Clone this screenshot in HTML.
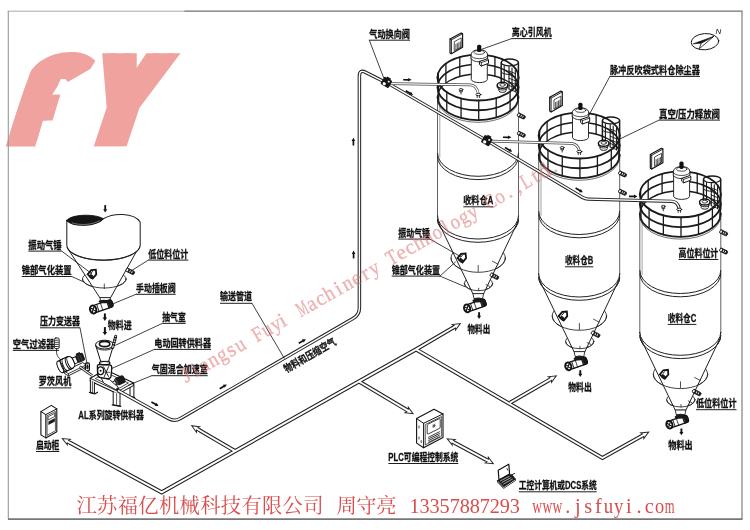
<!DOCTYPE html>
<html lang="zh-CN">
<head>
<meta charset="utf-8">
<title>气力输送系统流程图</title>
<style>
html,body{margin:0;padding:0;background:#fff;}
body{width:750px;height:530px;overflow:hidden;position:relative;}
svg{display:block;position:absolute;left:0;top:0;will-change:transform;}
.lb{font-family:"Liberation Sans","Noto Sans CJK SC",sans-serif;font-weight:bold;fill:#111;stroke:#111;stroke-width:0.28px;}
.song{font-family:"Liberation Serif","Noto Serif CJK SC",serif;}
</style>
</head>
<body>
<svg width="750" height="530" viewBox="0 0 750 530" stroke-linecap="round" stroke-linejoin="round">
<rect x="0" y="0" width="750" height="530" fill="#fff" stroke="none"/>
<defs><clipPath id="cf"><polygon points="4.2,146.4 43,36 67.7,36 67.7,51.2 74,51.5 80,52.5 86,54.5 91,57.3 95,60.5 97.9,64.6 83,73.2 67.7,82 65.5,79 60.9,79 57.2,86.5 51.9,94.8 60.2,94.8 52.6,120.5 42.8,120.5 35.2,146.4"/></clipPath><clipPath id="cy"><rect x="80" y="53.3" width="120" height="93.1"/></clipPath></defs>
<g id="logo" fill="#f0a29e" stroke="#f0a29e" stroke-linejoin="miter" stroke-miterlimit="10" font-family="'Noto Sans CJK SC','Liberation Sans',sans-serif" font-weight="900">
<g clip-path="url(#cf)"><text x="0" y="0" font-size="98.5" stroke-width="15.75" transform="translate(5,140) skewX(-17) scale(1.3,1)">f</text></g>
<g clip-path="url(#cy)"><text x="0" y="0" font-size="129" stroke-width="13.5" transform="translate(77,140) skewX(-18.5) scale(0.9,1)">Y</text></g>
</g>
<g id="frame">
<line x1="8" y1="11.2" x2="185" y2="11.2" stroke="#a8a8a8" stroke-width="1.0" />
<line x1="185" y1="11.2" x2="742" y2="11.2" stroke="#707070" stroke-width="1.3" />
<line x1="8.3" y1="11" x2="8.3" y2="519" stroke="#999" stroke-width="1.1" stroke-linecap="butt"/>
<line x1="742" y1="11" x2="742" y2="519" stroke="#888" stroke-width="1.3" stroke-linecap="butt"/>
<line x1="8" y1="519.2" x2="742.5" y2="519.2" stroke="#777" stroke-width="1.7" stroke-linecap="butt"/>
</g>
<g id="signals">
<path d="M69.78 442.64 L161.7 492.3 L416.1 349.4 L452.97 327.8" stroke="#222" stroke-width="4.1" fill="none" stroke-linejoin="miter" stroke-linecap="butt"/>
<path d="M235 451.1 L199.03 430" stroke="#222" stroke-width="4.1" fill="none" stroke-linejoin="miter" stroke-linecap="butt"/>
<path d="M359 381.5 L405.7 409.35" stroke="#222" stroke-width="4.1" fill="none" stroke-linejoin="miter" stroke-linecap="butt"/>
<path d="M416.1 349.4 L602.4 458 L641.28 436.25" stroke="#222" stroke-width="4.1" fill="none" stroke-linejoin="miter" stroke-linecap="butt"/>
<path d="M510 402.8 L548.95 380.17" stroke="#222" stroke-width="4.1" fill="none" stroke-linejoin="miter" stroke-linecap="butt"/>
<path d="M69.78 442.64 L161.7 492.3 L416.1 349.4 L452.97 327.8" stroke="#fff" stroke-width="1.9" fill="none" stroke-linejoin="miter" stroke-linecap="butt"/>
<path d="M235 451.1 L199.03 430" stroke="#fff" stroke-width="1.9" fill="none" stroke-linejoin="miter" stroke-linecap="butt"/>
<path d="M359 381.5 L405.7 409.35" stroke="#fff" stroke-width="1.9" fill="none" stroke-linejoin="miter" stroke-linecap="butt"/>
<path d="M416.1 349.4 L602.4 458 L641.28 436.25" stroke="#fff" stroke-width="1.9" fill="none" stroke-linejoin="miter" stroke-linecap="butt"/>
<path d="M510 402.8 L548.95 380.17" stroke="#fff" stroke-width="1.9" fill="none" stroke-linejoin="miter" stroke-linecap="butt"/>
<g transform="translate(62.3,438.6) rotate(-151.62)"><path d="M0 0 L-7.4 -3.2 L-6.4 -1.45 L-8.9 -1.45 L-8.9 1.45 L-6.4 1.45 L-7.4 3.2 Z" fill="#fff" stroke="none"/><path d="M-8.9 -1.45 L-6.4 -1.45 L-7.4 -3.2 L0 0 L-7.4 3.2 L-6.4 1.45 L-8.9 1.45" fill="none" stroke="#222" stroke-width="0.95" stroke-linejoin="miter"/></g>
<g transform="translate(460.3,323.5) rotate(-30.37)"><path d="M0 0 L-7.4 -3.2 L-6.4 -1.45 L-8.9 -1.45 L-8.9 1.45 L-6.4 1.45 L-7.4 3.2 Z" fill="#fff" stroke="none"/><path d="M-8.9 -1.45 L-6.4 -1.45 L-7.4 -3.2 L0 0 L-7.4 3.2 L-6.4 1.45 L-8.9 1.45" fill="none" stroke="#222" stroke-width="0.95" stroke-linejoin="miter"/></g>
<g transform="translate(191.7,425.7) rotate(-149.6)"><path d="M0 0 L-7.4 -3.2 L-6.4 -1.45 L-8.9 -1.45 L-8.9 1.45 L-6.4 1.45 L-7.4 3.2 Z" fill="#fff" stroke="none"/><path d="M-8.9 -1.45 L-6.4 -1.45 L-7.4 -3.2 L0 0 L-7.4 3.2 L-6.4 1.45 L-8.9 1.45" fill="none" stroke="#222" stroke-width="0.95" stroke-linejoin="miter"/></g>
<g transform="translate(413,413.7) rotate(30.81)"><path d="M0 0 L-7.4 -3.2 L-6.4 -1.45 L-8.9 -1.45 L-8.9 1.45 L-6.4 1.45 L-7.4 3.2 Z" fill="#fff" stroke="none"/><path d="M-8.9 -1.45 L-6.4 -1.45 L-7.4 -3.2 L0 0 L-7.4 3.2 L-6.4 1.45 L-8.9 1.45" fill="none" stroke="#222" stroke-width="0.95" stroke-linejoin="miter"/></g>
<g transform="translate(648.7,432.1) rotate(-29.22)"><path d="M0 0 L-7.4 -3.2 L-6.4 -1.45 L-8.9 -1.45 L-8.9 1.45 L-6.4 1.45 L-7.4 3.2 Z" fill="#fff" stroke="none"/><path d="M-8.9 -1.45 L-6.4 -1.45 L-7.4 -3.2 L0 0 L-7.4 3.2 L-6.4 1.45 L-8.9 1.45" fill="none" stroke="#222" stroke-width="0.95" stroke-linejoin="miter"/></g>
<g transform="translate(556.3,375.9) rotate(-30.16)"><path d="M0 0 L-7.4 -3.2 L-6.4 -1.45 L-8.9 -1.45 L-8.9 1.45 L-6.4 1.45 L-7.4 3.2 Z" fill="#fff" stroke="none"/><path d="M-8.9 -1.45 L-6.4 -1.45 L-7.4 -3.2 L0 0 L-7.4 3.2 L-6.4 1.45 L-8.9 1.45" fill="none" stroke="#222" stroke-width="0.95" stroke-linejoin="miter"/></g>
<path d="M454.69 442.83 L485.81 459.57" stroke="#222" stroke-width="4.1" fill="none" stroke-linecap="butt"/>
<path d="M454.69 442.83 L485.81 459.57" stroke="#fff" stroke-width="1.9" fill="none" stroke-linecap="butt"/>
<g transform="translate(447.2,438.8) rotate(-151.72)"><path d="M0 0 L-7.4 -3.2 L-6.4 -1.45 L-8.9 -1.45 L-8.9 1.45 L-6.4 1.45 L-7.4 3.2 Z" fill="#fff" stroke="none"/><path d="M-8.9 -1.45 L-6.4 -1.45 L-7.4 -3.2 L0 0 L-7.4 3.2 L-6.4 1.45 L-8.9 1.45" fill="none" stroke="#222" stroke-width="0.95" stroke-linejoin="miter"/></g>
<g transform="translate(493.3,463.6) rotate(28.28)"><path d="M0 0 L-7.4 -3.2 L-6.4 -1.45 L-8.9 -1.45 L-8.9 1.45 L-6.4 1.45 L-7.4 3.2 Z" fill="#fff" stroke="none"/><path d="M-8.9 -1.45 L-6.4 -1.45 L-7.4 -3.2 L0 0 L-7.4 3.2 L-6.4 1.45 L-8.9 1.45" fill="none" stroke="#222" stroke-width="0.95" stroke-linejoin="miter"/></g>
</g>
<g id="siloA">
<line x1="437.5" y1="97" x2="437.5" y2="217" stroke="#444" stroke-width="0.85" />
<line x1="518.5" y1="97" x2="518.5" y2="217" stroke="#444" stroke-width="0.85" />
<line x1="439.8" y1="103" x2="439.8" y2="157.3" stroke="#666" stroke-width="0.6" />
<path d="M437.5 153.3 A40.5 23 0 0 0 518.5 153.3" stroke="#222" stroke-width="1.0" fill="none" />
<path d="M437.5 156.6 A40.5 23 0 0 0 518.5 156.6" stroke="#222" stroke-width="1.0" fill="none" />
<path d="M437.5 216 A40.5 23 0 0 0 518.5 216" stroke="#222" stroke-width="1.0" fill="none" />
<path d="M437.5 219.3 A40.5 23 0 0 0 518.5 219.3" stroke="#222" stroke-width="1.0" fill="none" />
<ellipse cx="478.2" cy="258" rx="27.2" ry="14.3" stroke="#222" stroke-width="0.85" fill="none" />
<ellipse cx="478.5" cy="283.5" rx="14.2" ry="7.2" stroke="#222" stroke-width="0.85" fill="none" />
<path d="M437.8 221 L473 294 L483.5 294 L518.2 221" fill="#fff" stroke="#222" stroke-width="1.0"/>
<path d="M437.5 216 A40.5 23.0 0 0 0 518.5 216" fill="#fff" stroke="none"/>
<path d="M437.5 216 A40.5 23 0 0 0 518.5 216" stroke="#222" stroke-width="1.0" fill="none" />
<path d="M437.5 219.3 A40.5 23 0 0 0 518.5 219.3" stroke="#222" stroke-width="1.0" fill="none" />
<path d="M451 258 A27.2 14.3 0 0 0 505.4 258" stroke="#222" stroke-width="0.85" fill="none" />
<path d="M464.3 283.5 A14.2 7.2 0 0 0 492.7 283.5" stroke="#222" stroke-width="0.85" fill="none" />
<line x1="478.2" y1="265.5" x2="478.2" y2="271.5" stroke="#222" stroke-width="0.8" />
<line x1="478.7" y1="288.2" x2="478.7" y2="290.7" stroke="#222" stroke-width="0.8" />
<line x1="492.4" y1="261.2" x2="498" y2="264.2" stroke="#222" stroke-width="0.8" />
<line x1="486" y1="284.6" x2="489.6" y2="286.4" stroke="#222" stroke-width="0.8" />
<path d="M473 294 L474 298.6 L482.6 298.6 L483.5 294 Z" fill="#fff" stroke="#222" stroke-width="0.9"/>
<ellipse cx="478.3" cy="299.2" rx="4.6" ry="1.7" fill="#222" stroke="none"/>
<g transform="translate(475.8,305.4) rotate(-19) scale(1.0)">
<rect x="-10" y="-3.6" width="20.4" height="7.2" rx="2.2" fill="#fff" stroke="#111" stroke-width="1.25"/>
<path d="M6.2 -3.6 L8.2 -3.6 Q10.4 -3.6 10.4 -1.4 L10.4 1.4 Q10.4 3.6 8.2 3.6 L6.2 3.6 Z" fill="#1a1a1a" stroke="#111" stroke-width="0.8"/>
<ellipse cx="3.0" cy="-3.9" rx="5.0" ry="1.7" fill="#1a1a1a" transform="rotate(19 3.0 -3.9)"/>
<path d="M-0.6 -3.6 L-0.6 3.6 M5.6 -3.6 L5.6 3.6" stroke="#111" stroke-width="0.7"/>
<ellipse cx="-9.2" cy="0" rx="3.0" ry="3.9" fill="#fff" stroke="#111" stroke-width="1.9"/>
<path d="M-10.9 -2.2 L-7.5 2.2 M-10.9 2.2 L-7.5 -2.2" stroke="#111" stroke-width="1.15"/>
<line x1="-4.4" y1="-3.6" x2="-4.4" y2="3.6" stroke="#111" stroke-width="0.8"/>
</g>
<g transform="translate(479.1,315.6) rotate(90)"><path d="M-3.4 0 L0.6 0" stroke="#111" stroke-width="1.9" stroke-linecap="butt" fill="none"/><path d="M3.4 0 L0.2 -2 L0.2 2 Z" fill="#111" stroke="none"/></g>
<g transform="translate(462.4,257.4) rotate(-50) scale(1.1)"><path d="M-3.4 -3 L1.6 -3 L4.6 0 L1.6 3 L-3.4 3 Z" fill="#fff" stroke="#111" stroke-width="1.6" stroke-linejoin="miter"/><rect x="-4.6" y="-1.2" width="3.4" height="3.8" rx="0.5" fill="#1a1a1a"/><path d="M-0.8 -1.3 L1.4 -1.3" stroke="#111" stroke-width="0.8"/></g>
<g transform="translate(490.4,274.2) rotate(27)"><rect x="0" y="-1.8" width="9" height="3.6" rx="1.2" fill="#1c1c1c" stroke="#111" stroke-width="0.7"/><rect x="0.5" y="-1.2" width="1.6" height="2.4" rx="0.5" fill="#fff"/><rect x="3.78" y="-1.0" width="0.9" height="2.0" fill="#eee"/><rect x="5.94" y="-1.0" width="0.9" height="2.0" fill="#eee"/></g>
<path d="M437.5 97 A40.5 23 0 0 1 518.5 97" stroke="#1a1a1a" stroke-width="1.4" fill="none" />
<path d="M437.5 87.25 A40.5 23 0 0 1 518.5 87.25" stroke="#1a1a1a" stroke-width="1.6" fill="none" />
<path d="M437.5 77.5 A40.5 23 0 0 1 518.5 77.5" stroke="#1a1a1a" stroke-width="1.75" fill="none" />
<line x1="438.36" y1="72.77" x2="438.36" y2="92.27" stroke="#1a1a1a" stroke-width="1.3" />
<line x1="445.9" y1="63.48" x2="445.9" y2="82.98" stroke="#1a1a1a" stroke-width="1.3" />
<line x1="459.79" y1="56.96" x2="459.79" y2="76.46" stroke="#1a1a1a" stroke-width="1.3" />
<line x1="477.29" y1="54.5" x2="477.29" y2="74" stroke="#1a1a1a" stroke-width="1.3" />
<line x1="494.93" y1="56.61" x2="494.93" y2="76.11" stroke="#1a1a1a" stroke-width="1.3" />
<g stroke="#1a1a1a" fill="none">
<path d="M501.2 84 L501.2 62.5 A8.6 3.4 0 0 1 518.4 62.5 L518.4 93" stroke-width="1.5" fill="none"/>
<path d="M501.2 62.5 A8.6 3.4 0 0 0 518.4 62.5" stroke-width="1.2"/>
<path d="M501.2 72 A8.6 3.4 0 0 0 510 74.4" stroke-width="1.0"/>
<path d="M504.2 83 L504.2 65.7 M509 89 L509 66.5 M512 91 L512 68 M515.3 92 L515.3 69.5" stroke-width="1.1"/>
<path d="M509 71 L515.3 73.6" stroke-width="0.9"/>
<path d="M509 74.6 L515.3 77.2" stroke-width="0.9"/>
<path d="M509 78.2 L515.3 80.8" stroke-width="0.9"/>
<path d="M509 81.8 L515.3 84.4" stroke-width="0.9"/>
<path d="M509 85.4 L515.3 88" stroke-width="0.9"/>
<path d="M509 89 L515.3 91.6" stroke-width="0.9"/>
</g>
<path d="M471.3 57 L471.3 79.4 A8 3.2 0 0 0 487.3 79.4 L487.3 57 Z" fill="#fff" stroke="#222" stroke-width="0.95"/>
<path d="M471.3 58.6 A8 3.2 0 0 0 487.3 58.6" fill="none" stroke="#222" stroke-width="0.9"/>
<path d="M471 58.6 L471 55 Q471.3 51 476.3 50 L482.3 50 Q487.3 51 487.6 55 L487.6 58.6" fill="#fff" stroke="#222" stroke-width="1.0"/>
<path d="M471 55.5 A8.3 3.2 0 0 0 487.6 55.5" fill="none" stroke="#222" stroke-width="0.8"/>
<ellipse cx="479.3" cy="52.4" rx="5.2" ry="2" fill="none" stroke="#222" stroke-width="0.8"/>
<rect x="477.1" y="44.7" width="4.2" height="7.4" rx="1.6" fill="#111"/>
<path d="M479.8 61.4 L487.3 58.8 L488.5 60 L488.5 63.4 L481.3 66 L479.8 64.8 Z" fill="#fff" stroke="#111" stroke-width="1.0"/>
<path d="M479.8 61.4 L481.3 62.6 L488.5 60 M481.3 62.6 L481.3 66" fill="none" stroke="#111" stroke-width="0.8"/>
<path d="M498.9 86.7 L498.9 90.6 A3.6 1.8 0 0 0 506.1 90.6 L506.1 86.7" fill="#fff" stroke="#111" stroke-width="0.9"/>
<ellipse cx="502.5" cy="85.2" rx="5.3" ry="3.0" fill="#fff" stroke="#111" stroke-width="1.4"/>
<ellipse cx="502.5" cy="84.9" rx="2.7" ry="1.4" fill="none" stroke="#111" stroke-width="0.8"/>
<path d="M497.2 85.2 L497.2 87 A5.3 3 0 0 0 507.8 87 L507.8 85.2" fill="none" stroke="#111" stroke-width="0.9"/>
<ellipse cx="461" cy="89.5" rx="1.9" ry="1.0" fill="#fff" stroke="#111" stroke-width="0.8"/>
<path d="M459.7 90.3 L459.7 91.9 L462.3 91.9 L462.3 90.3 M461 91.9 L461 94.1" fill="none" stroke="#111" stroke-width="0.8"/>
<line x1="478.71" y1="100.5" x2="478.71" y2="120" stroke="#1a1a1a" stroke-width="1.3" />
<line x1="461.07" y1="98.39" x2="461.07" y2="117.89" stroke="#1a1a1a" stroke-width="1.3" />
<line x1="446.78" y1="92.15" x2="446.78" y2="111.65" stroke="#1a1a1a" stroke-width="1.3" />
<line x1="438.68" y1="83.01" x2="438.68" y2="102.51" stroke="#1a1a1a" stroke-width="1.3" />
<line x1="517.64" y1="82.22" x2="517.64" y2="101.72" stroke="#1a1a1a" stroke-width="1.3" />
<line x1="510.1" y1="91.52" x2="510.1" y2="111.02" stroke="#1a1a1a" stroke-width="1.3" />
<line x1="496.21" y1="98.04" x2="496.21" y2="117.54" stroke="#1a1a1a" stroke-width="1.3" />
<path d="M437.5 97 A40.5 23 0 0 0 518.5 97" stroke="#1a1a1a" stroke-width="1.75" fill="none" />
<path d="M437.5 87.25 A40.5 23 0 0 0 518.5 87.25" stroke="#1a1a1a" stroke-width="1.85" fill="none" />
<path d="M437.5 77.5 A40.5 23 0 0 0 518.5 77.5" stroke="#1a1a1a" stroke-width="1.95" fill="none" />
<path d="M437.5 99.3 A40.5 23 0 0 0 518.5 99.3" stroke="#333" stroke-width="0.7" fill="none" />
<path d="M450 39.1 L461.2 32.9 L462.6 33.7 L462.6 47.3 L451.4 53.7 L450 52.9 Z" fill="#fff" stroke="#111" stroke-width="1.15"/>
<path d="M450 39.1 L451.4 39.9 L462.6 33.7 M451.4 39.9 L451.4 53.7" fill="none" stroke="#111" stroke-width="0.9"/>
<path d="M454.6 41.5 L461.2 37.9 L461.2 47.1 L454.6 50.7 Z" fill="#fff" stroke="#222" stroke-width="0.8"/>
<path d="M455.9 44.3 L455.9 49.7" stroke="#222" stroke-width="0.75"/>
<path d="M457.35 43.5 L457.35 48.9" stroke="#222" stroke-width="0.75"/>
<path d="M458.8 42.7 L458.8 48.1" stroke="#222" stroke-width="0.75"/>
<path d="M460.25 41.9 L460.25 47.3" stroke="#222" stroke-width="0.75"/>
<g transform="translate(517.6,114.3) rotate(25)"><rect x="0" y="-1.8" width="8.2" height="3.6" rx="1.2" fill="#1c1c1c" stroke="#111" stroke-width="0.7"/><rect x="0.5" y="-1.2" width="1.6" height="2.4" rx="0.5" fill="#fff"/><rect x="3.44" y="-1.0" width="0.9" height="2.0" fill="#eee"/><rect x="5.41" y="-1.0" width="0.9" height="2.0" fill="#eee"/></g>
<g transform="translate(517.6,132.6) rotate(25)"><rect x="0" y="-1.8" width="8.2" height="3.6" rx="1.2" fill="#1c1c1c" stroke="#111" stroke-width="0.7"/><rect x="0.5" y="-1.2" width="1.6" height="2.4" rx="0.5" fill="#fff"/><rect x="3.44" y="-1.0" width="0.9" height="2.0" fill="#eee"/><rect x="5.41" y="-1.0" width="0.9" height="2.0" fill="#eee"/></g>
</g>
<g id="siloB">
<line x1="538.7" y1="155" x2="538.7" y2="275" stroke="#444" stroke-width="0.85" />
<line x1="619.7" y1="155" x2="619.7" y2="275" stroke="#444" stroke-width="0.85" />
<line x1="541" y1="161" x2="541" y2="215.5" stroke="#666" stroke-width="0.6" />
<path d="M538.7 211.5 A40.5 23 0 0 0 619.7 211.5" stroke="#222" stroke-width="1.0" fill="none" />
<path d="M538.7 214.8 A40.5 23 0 0 0 619.7 214.8" stroke="#222" stroke-width="1.0" fill="none" />
<path d="M538.7 274 A40.5 23 0 0 0 619.7 274" stroke="#222" stroke-width="1.0" fill="none" />
<path d="M538.7 277.3 A40.5 23 0 0 0 619.7 277.3" stroke="#222" stroke-width="1.0" fill="none" />
<ellipse cx="579.4" cy="316" rx="27.2" ry="14.3" stroke="#222" stroke-width="0.85" fill="none" />
<ellipse cx="579.7" cy="341.5" rx="14.2" ry="7.2" stroke="#222" stroke-width="0.85" fill="none" />
<path d="M539 279 L574.2 352 L584.7 352 L619.4 279" fill="#fff" stroke="#222" stroke-width="1.0"/>
<path d="M538.7 274 A40.5 23.0 0 0 0 619.7 274" fill="#fff" stroke="none"/>
<path d="M538.7 274 A40.5 23 0 0 0 619.7 274" stroke="#222" stroke-width="1.0" fill="none" />
<path d="M538.7 277.3 A40.5 23 0 0 0 619.7 277.3" stroke="#222" stroke-width="1.0" fill="none" />
<path d="M552.2 316 A27.2 14.3 0 0 0 606.6 316" stroke="#222" stroke-width="0.85" fill="none" />
<path d="M565.5 341.5 A14.2 7.2 0 0 0 593.9 341.5" stroke="#222" stroke-width="0.85" fill="none" />
<line x1="579.4" y1="323.5" x2="579.4" y2="329.5" stroke="#222" stroke-width="0.8" />
<line x1="579.9" y1="346.2" x2="579.9" y2="348.7" stroke="#222" stroke-width="0.8" />
<line x1="593.6" y1="319.2" x2="599.2" y2="322.2" stroke="#222" stroke-width="0.8" />
<line x1="587.2" y1="342.6" x2="590.8" y2="344.4" stroke="#222" stroke-width="0.8" />
<path d="M574.2 352 L575.2 356.6 L583.8 356.6 L584.7 352 Z" fill="#fff" stroke="#222" stroke-width="0.9"/>
<ellipse cx="579.5" cy="357.2" rx="4.6" ry="1.7" fill="#222" stroke="none"/>
<g transform="translate(577,363.4) rotate(-19) scale(1.0)">
<rect x="-10" y="-3.6" width="20.4" height="7.2" rx="2.2" fill="#fff" stroke="#111" stroke-width="1.25"/>
<path d="M6.2 -3.6 L8.2 -3.6 Q10.4 -3.6 10.4 -1.4 L10.4 1.4 Q10.4 3.6 8.2 3.6 L6.2 3.6 Z" fill="#1a1a1a" stroke="#111" stroke-width="0.8"/>
<ellipse cx="3.0" cy="-3.9" rx="5.0" ry="1.7" fill="#1a1a1a" transform="rotate(19 3.0 -3.9)"/>
<path d="M-0.6 -3.6 L-0.6 3.6 M5.6 -3.6 L5.6 3.6" stroke="#111" stroke-width="0.7"/>
<ellipse cx="-9.2" cy="0" rx="3.0" ry="3.9" fill="#fff" stroke="#111" stroke-width="1.9"/>
<path d="M-10.9 -2.2 L-7.5 2.2 M-10.9 2.2 L-7.5 -2.2" stroke="#111" stroke-width="1.15"/>
<line x1="-4.4" y1="-3.6" x2="-4.4" y2="3.6" stroke="#111" stroke-width="0.8"/>
</g>
<g transform="translate(580.3,373.6) rotate(90)"><path d="M-3.4 0 L0.6 0" stroke="#111" stroke-width="1.9" stroke-linecap="butt" fill="none"/><path d="M3.4 0 L0.2 -2 L0.2 2 Z" fill="#111" stroke="none"/></g>
<g transform="translate(563.6,315.4) rotate(-50) scale(1.1)"><path d="M-3.4 -3 L1.6 -3 L4.6 0 L1.6 3 L-3.4 3 Z" fill="#fff" stroke="#111" stroke-width="1.6" stroke-linejoin="miter"/><rect x="-4.6" y="-1.2" width="3.4" height="3.8" rx="0.5" fill="#1a1a1a"/><path d="M-0.8 -1.3 L1.4 -1.3" stroke="#111" stroke-width="0.8"/></g>
<g transform="translate(591.6,332.2) rotate(27)"><rect x="0" y="-1.8" width="9" height="3.6" rx="1.2" fill="#1c1c1c" stroke="#111" stroke-width="0.7"/><rect x="0.5" y="-1.2" width="1.6" height="2.4" rx="0.5" fill="#fff"/><rect x="3.78" y="-1.0" width="0.9" height="2.0" fill="#eee"/><rect x="5.94" y="-1.0" width="0.9" height="2.0" fill="#eee"/></g>
<path d="M538.7 155 A40.5 23 0 0 1 619.7 155" stroke="#1a1a1a" stroke-width="1.4" fill="none" />
<path d="M538.7 145.25 A40.5 23 0 0 1 619.7 145.25" stroke="#1a1a1a" stroke-width="1.6" fill="none" />
<path d="M538.7 135.5 A40.5 23 0 0 1 619.7 135.5" stroke="#1a1a1a" stroke-width="1.75" fill="none" />
<line x1="539.56" y1="130.77" x2="539.56" y2="150.27" stroke="#1a1a1a" stroke-width="1.3" />
<line x1="547.1" y1="121.48" x2="547.1" y2="140.98" stroke="#1a1a1a" stroke-width="1.3" />
<line x1="560.99" y1="114.96" x2="560.99" y2="134.46" stroke="#1a1a1a" stroke-width="1.3" />
<line x1="578.49" y1="112.5" x2="578.49" y2="132" stroke="#1a1a1a" stroke-width="1.3" />
<line x1="596.13" y1="114.61" x2="596.13" y2="134.11" stroke="#1a1a1a" stroke-width="1.3" />
<g stroke="#1a1a1a" fill="none">
<path d="M602.4 142 L602.4 120.5 A8.6 3.4 0 0 1 619.6 120.5 L619.6 151" stroke-width="1.5" fill="none"/>
<path d="M602.4 120.5 A8.6 3.4 0 0 0 619.6 120.5" stroke-width="1.2"/>
<path d="M602.4 130 A8.6 3.4 0 0 0 611.2 132.4" stroke-width="1.0"/>
<path d="M605.4 141 L605.4 123.7 M610.2 147 L610.2 124.5 M613.2 149 L613.2 126 M616.5 150 L616.5 127.5" stroke-width="1.1"/>
<path d="M610.2 129 L616.5 131.6" stroke-width="0.9"/>
<path d="M610.2 132.6 L616.5 135.2" stroke-width="0.9"/>
<path d="M610.2 136.2 L616.5 138.8" stroke-width="0.9"/>
<path d="M610.2 139.8 L616.5 142.4" stroke-width="0.9"/>
<path d="M610.2 143.4 L616.5 146" stroke-width="0.9"/>
<path d="M610.2 147 L616.5 149.6" stroke-width="0.9"/>
</g>
<path d="M572.5 115 L572.5 137.4 A8 3.2 0 0 0 588.5 137.4 L588.5 115 Z" fill="#fff" stroke="#222" stroke-width="0.95"/>
<path d="M572.5 116.6 A8 3.2 0 0 0 588.5 116.6" fill="none" stroke="#222" stroke-width="0.9"/>
<path d="M572.2 116.6 L572.2 113 Q572.5 109 577.5 108 L583.5 108 Q588.5 109 588.8 113 L588.8 116.6" fill="#fff" stroke="#222" stroke-width="1.0"/>
<path d="M572.2 113.5 A8.3 3.2 0 0 0 588.8 113.5" fill="none" stroke="#222" stroke-width="0.8"/>
<ellipse cx="580.5" cy="110.4" rx="5.2" ry="2" fill="none" stroke="#222" stroke-width="0.8"/>
<rect x="578.3" y="102.7" width="4.2" height="7.4" rx="1.6" fill="#111"/>
<path d="M581 119.4 L588.5 116.8 L589.7 118 L589.7 121.4 L582.5 124 L581 122.8 Z" fill="#fff" stroke="#111" stroke-width="1.0"/>
<path d="M581 119.4 L582.5 120.6 L589.7 118 M582.5 120.6 L582.5 124" fill="none" stroke="#111" stroke-width="0.8"/>
<path d="M600.1 144.7 L600.1 148.6 A3.6 1.8 0 0 0 607.3 148.6 L607.3 144.7" fill="#fff" stroke="#111" stroke-width="0.9"/>
<ellipse cx="603.7" cy="143.2" rx="5.3" ry="3.0" fill="#fff" stroke="#111" stroke-width="1.4"/>
<ellipse cx="603.7" cy="142.9" rx="2.7" ry="1.4" fill="none" stroke="#111" stroke-width="0.8"/>
<path d="M598.4 143.2 L598.4 145 A5.3 3 0 0 0 609 145 L609 143.2" fill="none" stroke="#111" stroke-width="0.9"/>
<ellipse cx="562.2" cy="147.5" rx="1.9" ry="1.0" fill="#fff" stroke="#111" stroke-width="0.8"/>
<path d="M560.9 148.3 L560.9 149.9 L563.5 149.9 L563.5 148.3 M562.2 149.9 L562.2 152.1" fill="none" stroke="#111" stroke-width="0.8"/>
<line x1="579.91" y1="158.5" x2="579.91" y2="178" stroke="#1a1a1a" stroke-width="1.3" />
<line x1="562.27" y1="156.39" x2="562.27" y2="175.89" stroke="#1a1a1a" stroke-width="1.3" />
<line x1="547.98" y1="150.15" x2="547.98" y2="169.65" stroke="#1a1a1a" stroke-width="1.3" />
<line x1="539.88" y1="141.01" x2="539.88" y2="160.51" stroke="#1a1a1a" stroke-width="1.3" />
<line x1="618.84" y1="140.22" x2="618.84" y2="159.72" stroke="#1a1a1a" stroke-width="1.3" />
<line x1="611.3" y1="149.52" x2="611.3" y2="169.02" stroke="#1a1a1a" stroke-width="1.3" />
<line x1="597.41" y1="156.04" x2="597.41" y2="175.54" stroke="#1a1a1a" stroke-width="1.3" />
<path d="M538.7 155 A40.5 23 0 0 0 619.7 155" stroke="#1a1a1a" stroke-width="1.75" fill="none" />
<path d="M538.7 145.25 A40.5 23 0 0 0 619.7 145.25" stroke="#1a1a1a" stroke-width="1.85" fill="none" />
<path d="M538.7 135.5 A40.5 23 0 0 0 619.7 135.5" stroke="#1a1a1a" stroke-width="1.95" fill="none" />
<path d="M538.7 157.3 A40.5 23 0 0 0 619.7 157.3" stroke="#333" stroke-width="0.7" fill="none" />
<path d="M549.7 97.3 L560.9 91.1 L562.3 91.9 L562.3 105.5 L551.1 111.9 L549.7 111.1 Z" fill="#fff" stroke="#111" stroke-width="1.15"/>
<path d="M549.7 97.3 L551.1 98.1 L562.3 91.9 M551.1 98.1 L551.1 111.9" fill="none" stroke="#111" stroke-width="0.9"/>
<path d="M554.3 99.7 L560.9 96.1 L560.9 105.3 L554.3 108.9 Z" fill="#fff" stroke="#222" stroke-width="0.8"/>
<path d="M555.6 102.5 L555.6 107.9" stroke="#222" stroke-width="0.75"/>
<path d="M557.05 101.7 L557.05 107.1" stroke="#222" stroke-width="0.75"/>
<path d="M558.5 100.9 L558.5 106.3" stroke="#222" stroke-width="0.75"/>
<path d="M559.95 100.1 L559.95 105.5" stroke="#222" stroke-width="0.75"/>
<g transform="translate(618.8,172.3) rotate(25)"><rect x="0" y="-1.8" width="8.2" height="3.6" rx="1.2" fill="#1c1c1c" stroke="#111" stroke-width="0.7"/><rect x="0.5" y="-1.2" width="1.6" height="2.4" rx="0.5" fill="#fff"/><rect x="3.44" y="-1.0" width="0.9" height="2.0" fill="#eee"/><rect x="5.41" y="-1.0" width="0.9" height="2.0" fill="#eee"/></g>
<g transform="translate(618.8,190.6) rotate(25)"><rect x="0" y="-1.8" width="8.2" height="3.6" rx="1.2" fill="#1c1c1c" stroke="#111" stroke-width="0.7"/><rect x="0.5" y="-1.2" width="1.6" height="2.4" rx="0.5" fill="#fff"/><rect x="3.44" y="-1.0" width="0.9" height="2.0" fill="#eee"/><rect x="5.41" y="-1.0" width="0.9" height="2.0" fill="#eee"/></g>
</g>
<g id="siloC">
<line x1="639.8" y1="213.8" x2="639.8" y2="333.3" stroke="#444" stroke-width="0.85" />
<line x1="720.8" y1="213.8" x2="720.8" y2="333.3" stroke="#444" stroke-width="0.85" />
<line x1="642.1" y1="219.8" x2="642.1" y2="274.5" stroke="#666" stroke-width="0.6" />
<path d="M639.8 270.5 A40.5 23 0 0 0 720.8 270.5" stroke="#222" stroke-width="1.0" fill="none" />
<path d="M639.8 273.8 A40.5 23 0 0 0 720.8 273.8" stroke="#222" stroke-width="1.0" fill="none" />
<path d="M639.8 332.3 A40.5 23 0 0 0 720.8 332.3" stroke="#222" stroke-width="1.0" fill="none" />
<path d="M639.8 335.6 A40.5 23 0 0 0 720.8 335.6" stroke="#222" stroke-width="1.0" fill="none" />
<ellipse cx="680.5" cy="374.3" rx="27.2" ry="14.3" stroke="#222" stroke-width="0.85" fill="none" />
<ellipse cx="680.8" cy="399.8" rx="14.2" ry="7.2" stroke="#222" stroke-width="0.85" fill="none" />
<path d="M640.1 337.3 L675.3 410.3 L685.8 410.3 L720.5 337.3" fill="#fff" stroke="#222" stroke-width="1.0"/>
<path d="M639.8 332.3 A40.5 23.0 0 0 0 720.8 332.3" fill="#fff" stroke="none"/>
<path d="M639.8 332.3 A40.5 23 0 0 0 720.8 332.3" stroke="#222" stroke-width="1.0" fill="none" />
<path d="M639.8 335.6 A40.5 23 0 0 0 720.8 335.6" stroke="#222" stroke-width="1.0" fill="none" />
<path d="M653.3 374.3 A27.2 14.3 0 0 0 707.7 374.3" stroke="#222" stroke-width="0.85" fill="none" />
<path d="M666.6 399.8 A14.2 7.2 0 0 0 695 399.8" stroke="#222" stroke-width="0.85" fill="none" />
<line x1="680.5" y1="381.8" x2="680.5" y2="387.8" stroke="#222" stroke-width="0.8" />
<line x1="681" y1="404.5" x2="681" y2="407" stroke="#222" stroke-width="0.8" />
<line x1="694.7" y1="377.5" x2="700.3" y2="380.5" stroke="#222" stroke-width="0.8" />
<line x1="688.3" y1="400.9" x2="691.9" y2="402.7" stroke="#222" stroke-width="0.8" />
<path d="M675.3 410.3 L676.3 414.9 L684.9 414.9 L685.8 410.3 Z" fill="#fff" stroke="#222" stroke-width="0.9"/>
<ellipse cx="680.6" cy="415.5" rx="4.6" ry="1.7" fill="#222" stroke="none"/>
<g transform="translate(678.1,421.7) rotate(-19) scale(1.0)">
<rect x="-10" y="-3.6" width="20.4" height="7.2" rx="2.2" fill="#fff" stroke="#111" stroke-width="1.25"/>
<path d="M6.2 -3.6 L8.2 -3.6 Q10.4 -3.6 10.4 -1.4 L10.4 1.4 Q10.4 3.6 8.2 3.6 L6.2 3.6 Z" fill="#1a1a1a" stroke="#111" stroke-width="0.8"/>
<ellipse cx="3.0" cy="-3.9" rx="5.0" ry="1.7" fill="#1a1a1a" transform="rotate(19 3.0 -3.9)"/>
<path d="M-0.6 -3.6 L-0.6 3.6 M5.6 -3.6 L5.6 3.6" stroke="#111" stroke-width="0.7"/>
<ellipse cx="-9.2" cy="0" rx="3.0" ry="3.9" fill="#fff" stroke="#111" stroke-width="1.9"/>
<path d="M-10.9 -2.2 L-7.5 2.2 M-10.9 2.2 L-7.5 -2.2" stroke="#111" stroke-width="1.15"/>
<line x1="-4.4" y1="-3.6" x2="-4.4" y2="3.6" stroke="#111" stroke-width="0.8"/>
</g>
<g transform="translate(681.4,431.9) rotate(90)"><path d="M-3.4 0 L0.6 0" stroke="#111" stroke-width="1.9" stroke-linecap="butt" fill="none"/><path d="M3.4 0 L0.2 -2 L0.2 2 Z" fill="#111" stroke="none"/></g>
<g transform="translate(664.7,373.7) rotate(-50) scale(1.1)"><path d="M-3.4 -3 L1.6 -3 L4.6 0 L1.6 3 L-3.4 3 Z" fill="#fff" stroke="#111" stroke-width="1.6" stroke-linejoin="miter"/><rect x="-4.6" y="-1.2" width="3.4" height="3.8" rx="0.5" fill="#1a1a1a"/><path d="M-0.8 -1.3 L1.4 -1.3" stroke="#111" stroke-width="0.8"/></g>
<g transform="translate(692.7,390.5) rotate(27)"><rect x="0" y="-1.8" width="9" height="3.6" rx="1.2" fill="#1c1c1c" stroke="#111" stroke-width="0.7"/><rect x="0.5" y="-1.2" width="1.6" height="2.4" rx="0.5" fill="#fff"/><rect x="3.78" y="-1.0" width="0.9" height="2.0" fill="#eee"/><rect x="5.94" y="-1.0" width="0.9" height="2.0" fill="#eee"/></g>
<path d="M639.8 213.8 A40.5 23 0 0 1 720.8 213.8" stroke="#1a1a1a" stroke-width="1.4" fill="none" />
<path d="M639.8 204.05 A40.5 23 0 0 1 720.8 204.05" stroke="#1a1a1a" stroke-width="1.6" fill="none" />
<path d="M639.8 194.3 A40.5 23 0 0 1 720.8 194.3" stroke="#1a1a1a" stroke-width="1.75" fill="none" />
<line x1="640.66" y1="189.57" x2="640.66" y2="209.07" stroke="#1a1a1a" stroke-width="1.3" />
<line x1="648.2" y1="180.28" x2="648.2" y2="199.78" stroke="#1a1a1a" stroke-width="1.3" />
<line x1="662.09" y1="173.76" x2="662.09" y2="193.26" stroke="#1a1a1a" stroke-width="1.3" />
<line x1="679.59" y1="171.3" x2="679.59" y2="190.8" stroke="#1a1a1a" stroke-width="1.3" />
<line x1="697.23" y1="173.41" x2="697.23" y2="192.91" stroke="#1a1a1a" stroke-width="1.3" />
<g stroke="#1a1a1a" fill="none">
<path d="M703.5 200.8 L703.5 179.3 A8.6 3.4 0 0 1 720.7 179.3 L720.7 209.8" stroke-width="1.5" fill="none"/>
<path d="M703.5 179.3 A8.6 3.4 0 0 0 720.7 179.3" stroke-width="1.2"/>
<path d="M703.5 188.8 A8.6 3.4 0 0 0 712.3 191.2" stroke-width="1.0"/>
<path d="M706.5 199.8 L706.5 182.5 M711.3 205.8 L711.3 183.3 M714.3 207.8 L714.3 184.8 M717.6 208.8 L717.6 186.3" stroke-width="1.1"/>
<path d="M711.3 187.8 L717.6 190.4" stroke-width="0.9"/>
<path d="M711.3 191.4 L717.6 194" stroke-width="0.9"/>
<path d="M711.3 195 L717.6 197.6" stroke-width="0.9"/>
<path d="M711.3 198.6 L717.6 201.2" stroke-width="0.9"/>
<path d="M711.3 202.2 L717.6 204.8" stroke-width="0.9"/>
<path d="M711.3 205.8 L717.6 208.4" stroke-width="0.9"/>
</g>
<path d="M673.6 173.8 L673.6 196.2 A8 3.2 0 0 0 689.6 196.2 L689.6 173.8 Z" fill="#fff" stroke="#222" stroke-width="0.95"/>
<path d="M673.6 175.4 A8 3.2 0 0 0 689.6 175.4" fill="none" stroke="#222" stroke-width="0.9"/>
<path d="M673.3 175.4 L673.3 171.8 Q673.6 167.8 678.6 166.8 L684.6 166.8 Q689.6 167.8 689.9 171.8 L689.9 175.4" fill="#fff" stroke="#222" stroke-width="1.0"/>
<path d="M673.3 172.3 A8.3 3.2 0 0 0 689.9 172.3" fill="none" stroke="#222" stroke-width="0.8"/>
<ellipse cx="681.6" cy="169.2" rx="5.2" ry="2" fill="none" stroke="#222" stroke-width="0.8"/>
<rect x="679.4" y="161.5" width="4.2" height="7.4" rx="1.6" fill="#111"/>
<path d="M682.1 178.2 L689.6 175.6 L690.8 176.8 L690.8 180.2 L683.6 182.8 L682.1 181.6 Z" fill="#fff" stroke="#111" stroke-width="1.0"/>
<path d="M682.1 178.2 L683.6 179.4 L690.8 176.8 M683.6 179.4 L683.6 182.8" fill="none" stroke="#111" stroke-width="0.8"/>
<path d="M701.2 203.5 L701.2 207.4 A3.6 1.8 0 0 0 708.4 207.4 L708.4 203.5" fill="#fff" stroke="#111" stroke-width="0.9"/>
<ellipse cx="704.8" cy="202" rx="5.3" ry="3.0" fill="#fff" stroke="#111" stroke-width="1.4"/>
<ellipse cx="704.8" cy="201.7" rx="2.7" ry="1.4" fill="none" stroke="#111" stroke-width="0.8"/>
<path d="M699.5 202 L699.5 203.8 A5.3 3 0 0 0 710.1 203.8 L710.1 202" fill="none" stroke="#111" stroke-width="0.9"/>
<ellipse cx="663.3" cy="206.3" rx="1.9" ry="1.0" fill="#fff" stroke="#111" stroke-width="0.8"/>
<path d="M662 207.1 L662 208.7 L664.6 208.7 L664.6 207.1 M663.3 208.7 L663.3 210.9" fill="none" stroke="#111" stroke-width="0.8"/>
<line x1="681.01" y1="217.3" x2="681.01" y2="236.8" stroke="#1a1a1a" stroke-width="1.3" />
<line x1="663.37" y1="215.19" x2="663.37" y2="234.69" stroke="#1a1a1a" stroke-width="1.3" />
<line x1="649.08" y1="208.95" x2="649.08" y2="228.45" stroke="#1a1a1a" stroke-width="1.3" />
<line x1="640.98" y1="199.81" x2="640.98" y2="219.31" stroke="#1a1a1a" stroke-width="1.3" />
<line x1="719.94" y1="199.02" x2="719.94" y2="218.52" stroke="#1a1a1a" stroke-width="1.3" />
<line x1="712.4" y1="208.32" x2="712.4" y2="227.82" stroke="#1a1a1a" stroke-width="1.3" />
<line x1="698.51" y1="214.84" x2="698.51" y2="234.34" stroke="#1a1a1a" stroke-width="1.3" />
<path d="M639.8 213.8 A40.5 23 0 0 0 720.8 213.8" stroke="#1a1a1a" stroke-width="1.75" fill="none" />
<path d="M639.8 204.05 A40.5 23 0 0 0 720.8 204.05" stroke="#1a1a1a" stroke-width="1.85" fill="none" />
<path d="M639.8 194.3 A40.5 23 0 0 0 720.8 194.3" stroke="#1a1a1a" stroke-width="1.95" fill="none" />
<path d="M639.8 216.1 A40.5 23 0 0 0 720.8 216.1" stroke="#333" stroke-width="0.7" fill="none" />
<path d="M650.3 154.5 L661.5 148.3 L662.9 149.1 L662.9 162.7 L651.7 169.1 L650.3 168.3 Z" fill="#fff" stroke="#111" stroke-width="1.15"/>
<path d="M650.3 154.5 L651.7 155.3 L662.9 149.1 M651.7 155.3 L651.7 169.1" fill="none" stroke="#111" stroke-width="0.9"/>
<path d="M654.9 156.9 L661.5 153.3 L661.5 162.5 L654.9 166.1 Z" fill="#fff" stroke="#222" stroke-width="0.8"/>
<path d="M656.2 159.7 L656.2 165.1" stroke="#222" stroke-width="0.75"/>
<path d="M657.65 158.9 L657.65 164.3" stroke="#222" stroke-width="0.75"/>
<path d="M659.1 158.1 L659.1 163.5" stroke="#222" stroke-width="0.75"/>
<path d="M660.55 157.3 L660.55 162.7" stroke="#222" stroke-width="0.75"/>
<g transform="translate(719.9,231.1) rotate(25)"><rect x="0" y="-1.8" width="8.2" height="3.6" rx="1.2" fill="#1c1c1c" stroke="#111" stroke-width="0.7"/><rect x="0.5" y="-1.2" width="1.6" height="2.4" rx="0.5" fill="#fff"/><rect x="3.44" y="-1.0" width="0.9" height="2.0" fill="#eee"/><rect x="5.41" y="-1.0" width="0.9" height="2.0" fill="#eee"/></g>
<g transform="translate(719.9,249.4) rotate(25)"><rect x="0" y="-1.8" width="8.2" height="3.6" rx="1.2" fill="#1c1c1c" stroke="#111" stroke-width="0.7"/><rect x="0.5" y="-1.2" width="1.6" height="2.4" rx="0.5" fill="#fff"/><rect x="3.44" y="-1.0" width="0.9" height="2.0" fill="#eee"/><rect x="5.41" y="-1.0" width="0.9" height="2.0" fill="#eee"/></g>
</g>
<g id="hopper">
<ellipse cx="104.3" cy="279" rx="21.8" ry="9" stroke="#222" stroke-width="0.85" fill="none" />
<path d="M68 249 L100 298 L110.4 298 L139 247" fill="#fff" stroke="#222" stroke-width="1.0"/>
<path d="M66.8 220.5 L66.8 245.5 A36.7 15 0 0 0 140.2 244.6 L140.2 222 C137 217.5 131 215 123 214.6 C116 214.2 109 215.5 103.3 218.8 C96 226.5 74 227.5 66.8 220.5 Z" fill="#fff" stroke="#222" stroke-width="1.05"/>
<path d="M66.8 220.5 C70 214.3 95 213.3 103.3 218.8 C96 226.3 74 227.3 66.8 220.5 Z" fill="#151515" stroke="#111" stroke-width="0.9"/>
<path d="M72 222.9 C80 225.6 92 225 99.5 220.8" fill="none" stroke="#999" stroke-width="0.7"/>
<path d="M67.1 247.6 A36.7 15 0 0 0 139.9 246.8" fill="none" stroke="#222" stroke-width="1.0"/>
<path d="M82.5 279 A21.8 9 0 0 0 126.1 279" stroke="#222" stroke-width="0.85" fill="none" />
<line x1="104.3" y1="284" x2="104.3" y2="288.6" stroke="#222" stroke-width="0.8" />
<path d="M100 298 L101 302.4 L109.4 302.4 L110.4 298 Z" fill="#fff" stroke="#222" stroke-width="0.9"/>
<ellipse cx="105.2" cy="303" rx="4.6" ry="1.7" fill="#222"/>
<g transform="translate(102.2,306.4) rotate(-19) scale(1.04)">
<rect x="-10" y="-3.6" width="20.4" height="7.2" rx="2.2" fill="#fff" stroke="#111" stroke-width="1.25"/>
<path d="M6.2 -3.6 L8.2 -3.6 Q10.4 -3.6 10.4 -1.4 L10.4 1.4 Q10.4 3.6 8.2 3.6 L6.2 3.6 Z" fill="#1a1a1a" stroke="#111" stroke-width="0.8"/>
<ellipse cx="3.0" cy="-3.9" rx="5.0" ry="1.7" fill="#1a1a1a" transform="rotate(19 3.0 -3.9)"/>
<path d="M-0.6 -3.6 L-0.6 3.6 M5.6 -3.6 L5.6 3.6" stroke="#111" stroke-width="0.7"/>
<ellipse cx="-9.2" cy="0" rx="3.0" ry="3.9" fill="#fff" stroke="#111" stroke-width="1.9"/>
<path d="M-10.9 -2.2 L-7.5 2.2 M-10.9 2.2 L-7.5 -2.2" stroke="#111" stroke-width="1.15"/>
<line x1="-4.4" y1="-3.6" x2="-4.4" y2="3.6" stroke="#111" stroke-width="0.8"/>
</g>
<g transform="translate(92.6,273.6) rotate(-50) scale(1.1)"><path d="M-3.4 -3 L1.6 -3 L4.6 0 L1.6 3 L-3.4 3 Z" fill="#fff" stroke="#111" stroke-width="1.6" stroke-linejoin="miter"/><rect x="-4.6" y="-1.2" width="3.4" height="3.8" rx="0.5" fill="#1a1a1a"/><path d="M-0.8 -1.3 L1.4 -1.3" stroke="#111" stroke-width="0.8"/></g>
<g transform="translate(126.2,269.4) rotate(26)"><rect x="0" y="-1.8" width="9" height="3.6" rx="1.2" fill="#1c1c1c" stroke="#111" stroke-width="0.7"/><rect x="0.5" y="-1.2" width="1.6" height="2.4" rx="0.5" fill="#fff"/><rect x="3.78" y="-1.0" width="0.9" height="2.0" fill="#eee"/><rect x="5.94" y="-1.0" width="0.9" height="2.0" fill="#eee"/></g>
<g transform="translate(105.2,208.8) rotate(90)"><path d="M-3.7 0 L0.9 0" stroke="#111" stroke-width="1.8" stroke-linecap="butt" fill="none"/><path d="M3.7 0 L0.5 -2 L0.5 2 Z" fill="#111" stroke="none"/></g>
<g transform="translate(104.9,317.2) rotate(90)"><path d="M-3.8 0 L0.8 0" stroke="#111" stroke-width="2.0" stroke-linecap="butt" fill="none"/><path d="M3.8 0 L0.4 -2.2 L0.4 2.2 Z" fill="#111" stroke="none"/></g>
<g transform="translate(104.9,331.2) rotate(90)"><path d="M-4.1 0 L1.1 0" stroke="#111" stroke-width="2.0" stroke-linecap="butt" fill="none"/><path d="M4.1 0 L0.7 -2.2 L0.7 2.2 Z" fill="#111" stroke="none"/></g>
</g>
<g id="feeder">
<path d="M64.6 371.4 L82.6 362.6 L86.4 364.8 L86.4 366.8 L68.4 375.8 L64.6 373.6 Z" fill="#fff" stroke="#111" stroke-width="0.9"/>
<path d="M64.6 371.4 L68.4 373.6 L86.4 364.8 M68.4 373.6 L68.4 375.8" fill="none" stroke="#111" stroke-width="0.8"/>
<g transform="translate(65.4,364.6) rotate(-24)"><rect x="-7.6" y="-6.4" width="16.6" height="12.8" rx="4.6" fill="#fff" stroke="#111" stroke-width="1.15"/><ellipse cx="-5.6" cy="0" rx="2.4" ry="6.2" fill="#fff" stroke="#111" stroke-width="1.0"/><path d="M-1.6 -6.4 A2.6 6.4 0 0 0 -1.6 6.4 M0.2 -6.4 A2.6 6.4 0 0 0 0.2 6.4 M3.6 -6.4 A2.6 6.4 0 0 0 3.6 6.4 M5.4 -6.4 A2.6 6.4 0 0 0 5.4 6.4" fill="none" stroke="#111" stroke-width="0.95"/><rect x="9" y="-3.2" width="3.6" height="6.4" fill="#fff" stroke="#111" stroke-width="0.9"/><rect x="12.2" y="-4.4" width="8.2" height="8.4" rx="2" fill="#1a1a1a"/><rect x="13.8" y="-5.8" width="4.4" height="2.2" fill="#1a1a1a"/><path d="M14.6 -3 L14.6 3 M17 -3 L17 3" stroke="#666" stroke-width="0.5"/></g>
<rect x="85.4" y="362.8" width="4" height="8" rx="1.4" fill="#fff" stroke="#111" stroke-width="1.2"/>
<ellipse cx="87.4" cy="367" rx="1.2" ry="2.2" fill="#222"/>
<path d="M79.6 366.6 L92.2 375.6" stroke="#222" stroke-width="2.6" fill="none" stroke-linecap="butt"/>
<path d="M79.6 366.6 L92.2 375.6" stroke="#fff" stroke-width="1.1" fill="none" stroke-linecap="butt"/>
<path d="M130 385 L130 396.6 L133.9 397.2 L133.9 383.6" fill="#fff" stroke="#111" stroke-width="1.0"/>
<path d="M129.2 396.5 L134.8 397.5" stroke="#111" stroke-width="1.1"/>
<path d="M90.2 378.3 L105.5 369.8 L133.3 382.8 L133.3 385.6 L118 394.1 L90.2 381.1 Z" fill="#fff" stroke="#111" stroke-width="1.05"/>
<path d="M90.2 378.3 L118 391.3 L133.3 382.8 M118 391.3 L118 394.1" fill="none" stroke="#111" stroke-width="0.9"/>
<path d="M95.6 378.4 L106 372.6 L128.4 383 L118 388.8 Z" fill="none" stroke="#111" stroke-width="0.75"/>
<path d="M90.4 380.6 L90.4 392.6 L94.4 393.4 L94.4 382.6" fill="#fff" stroke="#111" stroke-width="1.0"/>
<path d="M92.4 381.8 L92.4 393" stroke="#111" stroke-width="0.7"/>
<path d="M89.4 392.4 L94.6 394 L97.6 392.2" fill="none" stroke="#111" stroke-width="1.1"/>
<path d="M113.2 392 L113.2 405 L120 406 L120 393.4" fill="#fff" stroke="#111" stroke-width="1.0"/>
<path d="M116.6 393.6 L116.6 405.4" stroke="#111" stroke-width="0.7"/>
<path d="M112.2 404.8 L120.8 406.4" stroke="#111" stroke-width="1.2"/>
<g transform="translate(120,380.4) rotate(-24)"><rect x="-4.8" y="-4.2" width="10" height="8.4" rx="3" fill="#1a1a1a"/><ellipse cx="-4.2" cy="0" rx="1.7" ry="3.6" fill="#444"/><rect x="-10" y="-1.6" width="5.4" height="3.2" fill="#fff" stroke="#111" stroke-width="0.8"/></g>
<path d="M101.4 377.6 L109.6 379.6 L118.4 387.4 L116.4 390 L104 383.2 Z" fill="#fff" stroke="#111" stroke-width="0.9"/>
<ellipse cx="117.6" cy="389.6" rx="1.5" ry="2" fill="#222"/>
<path d="M97.4 367 Q97 364.4 100 364.4 L109.4 364.8 Q112 365 111.8 368 L111 376.4 Q110.6 378.8 107.6 378.6 L100.6 377.6 Q97.8 377.2 97.6 374.4 Z" fill="#fff" stroke="#111" stroke-width="1.3"/>
<ellipse cx="100.6" cy="370.8" rx="3" ry="3.9" fill="#fff" stroke="#111" stroke-width="1.3"/>
<circle cx="100.6" cy="370.8" r="1" fill="#111"/>
<path d="M103.6 366.8 L108.4 376.4 M108.6 366.6 L104.2 376.8" stroke="#111" stroke-width="0.9"/>
<path d="M104 372 L109.6 372.4" stroke="#111" stroke-width="0.7"/>
<path d="M100.4 361 L100 364.6 L109.4 364.9 L109 361 Z" fill="#fff" stroke="#111" stroke-width="0.9"/>
<ellipse cx="104.7" cy="363" rx="5.2" ry="1.7" fill="#fff" stroke="#111" stroke-width="1.3"/>
<path d="M95.6 345 L100.7 361.4 L108.6 361.4 L113.6 345" fill="#fff" stroke="#111" stroke-width="1.0"/>
<ellipse cx="104.6" cy="344.6" rx="9" ry="4.4" fill="#fff" stroke="#111" stroke-width="1.0"/>
<path d="M95.8 346.6 A9 4.4 0 0 0 113.4 346.6" fill="none" stroke="#111" stroke-width="0.8"/>
<ellipse cx="104.6" cy="344" rx="5.2" ry="2.6" fill="#fff" stroke="#111" stroke-width="1.6"/>
<path d="M111.6 347.6 L115 335.2 L116.8 335.7 L113.6 348.2 Z" fill="#fff" stroke="#111" stroke-width="0.9"/>
<path d="M112.6 344.6 L114.6 345.1 M113.2 342.2 L115.2 342.7 M113.8 339.8 L115.8 340.3 M114.4 337.4 L116.4 337.9" stroke="#111" stroke-width="1.1"/>
</g>
<g id="pipes">
<path d="M118 390.5 L168.28 418.49 Q174.4 421.9 180.46 418.39 L353.34 318.31 Q359.4 314.8 359.4 307.8 L359.4 76.2 Q359.4 69.2 365.65 72.35 L386.4 82.8" stroke="#222" stroke-width="3.5" fill="none" stroke-linecap="butt"/>
<path d="M118 390.5 L168.28 418.49 Q174.4 421.9 180.46 418.39 L353.34 318.31 Q359.4 314.8 359.4 307.8 L359.4 76.2 Q359.4 69.2 365.65 72.35 L386.4 82.8" stroke="#fff" stroke-width="1.45" fill="none" stroke-linecap="butt"/>
<path d="M386.4 82.4 L484.2 139.1 Q486.8 140.6 489.38 142.13 L582.62 197.47 Q585.2 199 588.2 199.08 L671.8 201.3 Q677.6 201.6 679.2 208.5" stroke="#222" stroke-width="3.3" fill="none" stroke-linecap="butt"/>
<path d="M386.4 82.4 L484.2 139.1 Q486.8 140.6 489.38 142.13 L582.62 197.47 Q585.2 199 588.2 199.08 L671.8 201.3 Q677.6 201.6 679.2 208.5" stroke="#fff" stroke-width="1.4" fill="none" stroke-linecap="butt"/>
<path d="M390 83.6 L470.5 84.8 Q476.6 85.2 478.3 93.5" stroke="#444" stroke-width="2.7" fill="none" stroke-linecap="butt"/>
<path d="M390 83.6 L470.5 84.8 Q476.6 85.2 478.3 93.5" stroke="#fff" stroke-width="1.3" fill="none" stroke-linecap="butt"/>
<path d="M491 141.2 L571.3 143.3 Q577.6 143.8 579.3 150.5" stroke="#444" stroke-width="2.7" fill="none" stroke-linecap="butt"/>
<path d="M491 141.2 L571.3 143.3 Q577.6 143.8 579.3 150.5" stroke="#fff" stroke-width="1.3" fill="none" stroke-linecap="butt"/>
<ellipse cx="478.4" cy="94.6" rx="2.5" ry="1.2" fill="#fff" stroke="#111" stroke-width="0.9"/>
<path d="M477.2 95.6 L477.2 97.6 M479.6 95.6 L479.6 97.6" stroke="#111" stroke-width="0.8"/>
<ellipse cx="579.4" cy="151.6" rx="2.5" ry="1.2" fill="#fff" stroke="#111" stroke-width="0.9"/>
<path d="M578.2 152.6 L578.2 154.6 M580.6 152.6 L580.6 154.6" stroke="#111" stroke-width="0.8"/>
<ellipse cx="679.3" cy="209.4" rx="2.5" ry="1.2" fill="#fff" stroke="#111" stroke-width="0.9"/>
<path d="M678.1 210.4 L678.1 212.4 M680.5 210.4 L680.5 212.4" stroke="#111" stroke-width="0.8"/>
<g transform="translate(386.4,82.4) rotate(30)"><rect x="-4.6" y="-4.2" width="9.2" height="8.4" rx="1.2" fill="#151515"/><rect x="-2.2" y="-5.6" width="4.4" height="2.6" fill="#151515"/><ellipse cx="-1.2" cy="2.2" rx="1.7" ry="1.5" fill="#fff"/><rect x="0.8" y="-2.6" width="1.8" height="1.6" fill="#fff"/></g>
<g transform="translate(486.8,140.6) rotate(30)"><rect x="-4.6" y="-4.2" width="9.2" height="8.4" rx="1.2" fill="#151515"/><rect x="-2.2" y="-5.6" width="4.4" height="2.6" fill="#151515"/><ellipse cx="-1.2" cy="2.2" rx="1.7" ry="1.5" fill="#fff"/><rect x="0.8" y="-2.6" width="1.8" height="1.6" fill="#fff"/></g>
<g transform="translate(155,404) rotate(29)"><path d="M-4.1 0 L1.1 0" stroke="#111" stroke-width="1.7" stroke-linecap="butt" fill="none"/><path d="M4.1 0 L0.7 -1.8 L0.7 1.8 Z" fill="#111" stroke="none"/></g>
<g transform="translate(223.3,386.6) rotate(-30)"><path d="M-4.1 0 L1.1 0" stroke="#111" stroke-width="1.7" stroke-linecap="butt" fill="none"/><path d="M4.1 0 L0.7 -1.8 L0.7 1.8 Z" fill="#111" stroke="none"/></g>
<g transform="translate(302.3,341.2) rotate(-30)"><path d="M-4.1 0 L1.1 0" stroke="#111" stroke-width="1.7" stroke-linecap="butt" fill="none"/><path d="M4.1 0 L0.7 -1.8 L0.7 1.8 Z" fill="#111" stroke="none"/></g>
<g transform="translate(353.6,254.5) rotate(-90)"><path d="M-3.9 0 L0.9 0" stroke="#111" stroke-width="1.7" stroke-linecap="butt" fill="none"/><path d="M3.9 0 L0.5 -1.8 L0.5 1.8 Z" fill="#111" stroke="none"/></g>
<g transform="translate(353.4,141.6) rotate(-90)"><path d="M-3.9 0 L0.9 0" stroke="#111" stroke-width="1.7" stroke-linecap="butt" fill="none"/><path d="M3.9 0 L0.5 -1.8 L0.5 1.8 Z" fill="#111" stroke="none"/></g>
<g transform="translate(407.4,79.8) rotate(1)"><path d="M-4.2 0 L1.2 0" stroke="#111" stroke-width="1.7" stroke-linecap="butt" fill="none"/><path d="M4.2 0 L0.8 -1.8 L0.8 1.8 Z" fill="#111" stroke="none"/></g>
<g transform="translate(409.4,92.8) rotate(30)"><path d="M-4.2 0 L1.2 0" stroke="#111" stroke-width="1.7" stroke-linecap="butt" fill="none"/><path d="M4.2 0 L0.8 -1.8 L0.8 1.8 Z" fill="#111" stroke="none"/></g>
<g transform="translate(507.2,137.3) rotate(1)"><path d="M-4.2 0 L1.2 0" stroke="#111" stroke-width="1.7" stroke-linecap="butt" fill="none"/><path d="M4.2 0 L0.8 -1.8 L0.8 1.8 Z" fill="#111" stroke="none"/></g>
<g transform="translate(508.6,149.6) rotate(30)"><path d="M-4.2 0 L1.2 0" stroke="#111" stroke-width="1.7" stroke-linecap="butt" fill="none"/><path d="M4.2 0 L0.8 -1.8 L0.8 1.8 Z" fill="#111" stroke="none"/></g>
<g transform="translate(579.2,190.2) rotate(30)"><path d="M-4.2 0 L1.2 0" stroke="#111" stroke-width="1.7" stroke-linecap="butt" fill="none"/><path d="M4.2 0 L0.8 -1.8 L0.8 1.8 Z" fill="#111" stroke="none"/></g>
<g transform="translate(633.2,196.4) rotate(1.5)"><path d="M-4.2 0 L1.2 0" stroke="#111" stroke-width="1.7" stroke-linecap="butt" fill="none"/><path d="M4.2 0 L0.8 -1.8 L0.8 1.8 Z" fill="#111" stroke="none"/></g>
</g>
<g id="cabinet">
<path d="M40.9 411.6 L51.3 405.4 L56.8 408.9 L56.8 431.8 L45.8 437.9 L40.9 434.9 Z" fill="#fff" stroke="#111" stroke-width="1.1"/>
<path d="M40.9 411.6 L45.8 414.6 L56.8 408.9 M45.8 414.6 L45.8 437.9" fill="none" stroke="#111" stroke-width="1.0"/>
<path d="M47.4 415.6 L55.4 411.4 L55.4 430.8 L47.4 435.2 Z" fill="none" stroke="#111" stroke-width="0.7"/>
<path d="M48.4 416.6 L54.6 413.4 L54.6 416.6 L48.4 419.8 Z" fill="#fff" stroke="#111" stroke-width="0.7"/>
<path d="M48.8 421.6 L54.6 418.6 L54.6 421.4 L48.8 424.4 Z" fill="#1a1a1a" stroke="#111" stroke-width="0.5"/>
</g>
<g id="plc">
<path d="M416.6 418.6 L434 409.2 L443 413.9 L443 437.5 L423.6 447.8 L416.6 443.1 Z" fill="#fff" stroke="#111" stroke-width="1.1"/>
<path d="M416.6 418.6 L423.6 423.3 L443 413.9 M423.6 423.3 L423.6 447.8" fill="none" stroke="#111" stroke-width="1.0"/>
<path d="M425.6 424.4 L441.4 416.6 L441.4 436.4 L425.6 444.8 Z" fill="none" stroke="#111" stroke-width="0.7"/>
<path d="M427.2 425.6 Q427.2 424.6 428.2 424.1 L439 418.8 Q440.2 418.3 440.2 419.4 L440.2 427 Q440.2 428 439.2 428.5 L428.4 433.9 Q427.2 434.4 427.2 433.4 Z" fill="#fff" stroke="#111" stroke-width="0.8"/>
<path d="M433.2 424.6 L434.8 427 M434.8 424 L433.2 427.6 M432.6 426.2 L435.4 425.4" stroke="#111" stroke-width="0.6"/>
<path d="M428.6 437.2 L439.4 431.8" stroke="#222" stroke-width="0.9"/>
<path d="M428.6 438.9 L439.4 433.5" stroke="#222" stroke-width="0.9"/>
<path d="M428.6 440.6 L439.4 435.2" stroke="#222" stroke-width="0.9"/>
<path d="M428.6 442.3 L439.4 436.9" stroke="#222" stroke-width="0.9"/>
<path d="M419 426 L419 428 M421.2 440.6 L421.2 442.6 M419 437 L419 439" stroke="#111" stroke-width="0.8"/>
</g>
<g id="pc">
<path d="M498.2 470.2 L508.8 464.2 L509.6 474 L499 480 Z" fill="#fff" stroke="#111" stroke-width="1.2"/>
<path d="M507 468.6 L507.6 470" stroke="#111" stroke-width="0.9"/>
<path d="M497.6 480.6 L509.8 474.2 L515.4 479 L503.6 486.8 Z" fill="#1a1a1a" stroke="#111" stroke-width="0.9"/>
<path d="M500.5 480.8 L509.5 476.2 M502 482.4 L511 477.6 M503.6 484 L512.6 479" stroke="#fff" stroke-width="0.6" stroke-dasharray="1.1 0.7"/>
<path d="M509.6 476 L514.6 473.4 M511.5 474.6 L514.2 477.2" stroke="#111" stroke-width="0.9"/>
<path d="M497.6 480.6 L497.6 482.2 L503.6 488.4 L515.4 480.6 L515.4 479" fill="none" stroke="#111" stroke-width="0.8"/>
</g>
<g id="compass">
<ellipse cx="705" cy="41.7" rx="13.8" ry="8.1" fill="none" stroke="#111" stroke-width="0.95" transform="rotate(-4 705 41.7)"/>
<path d="M713.5 36.5 L693.2 43.8 L701.2 43.3 Z" fill="#111" stroke="#111" stroke-width="0.6"/>
<path d="M713.5 36.5 L701.2 43.3 L699.3 48.5 Z" fill="#fff" stroke="#111" stroke-width="0.8"/>
<text x="715.6" y="33.6" font-family="'Liberation Sans',sans-serif" font-style="italic" font-size="8" fill="#111">N</text>
</g>
<g id="afilter">
<rect x="54.4" y="338" width="4.8" height="10.6" rx="1.4" fill="#fff" stroke="#111" stroke-width="0.9"/>
<line x1="55.2" y1="340.2" x2="58.4" y2="340.2" stroke="#111" stroke-width="0.8"/>
<line x1="55.2" y1="342.3" x2="58.4" y2="342.3" stroke="#111" stroke-width="0.8"/>
<line x1="55.2" y1="344.4" x2="58.4" y2="344.4" stroke="#111" stroke-width="0.8"/>
<line x1="55.2" y1="346.5" x2="58.4" y2="346.5" stroke="#111" stroke-width="0.8"/>
<path d="M56.6 348.8 C56 354.5 57.6 357 60.6 359.6" fill="none" stroke="#111" stroke-width="0.8"/>
</g>
<g id="leaders" stroke="#111" stroke-width="0.8" fill="none">
<line x1="61.7" y1="251.1" x2="91.6" y2="273.6"/>
<line x1="71.7" y1="276.5" x2="84" y2="282"/>
<line x1="148.3" y1="260.1" x2="131.6" y2="270.6"/>
<line x1="136" y1="294.3" x2="112" y2="304.2"/>
<line x1="252" y1="303.3" x2="284.2" y2="358.2"/>
<line x1="80" y1="327.8" x2="87.2" y2="364.6"/>
<line x1="162.3" y1="323.4" x2="115.6" y2="345.2"/>
<line x1="154.3" y1="349.4" x2="111.6" y2="368.6"/>
<line x1="151.7" y1="375.7" x2="128.4" y2="385.2"/>
<line x1="369.3" y1="40.2" x2="383.6" y2="77.6"/>
<line x1="511.7" y1="38.6" x2="481.7" y2="49.3"/>
<line x1="609.9" y1="76.4" x2="589" y2="115"/>
<line x1="659" y1="120.1" x2="618.2" y2="139.8"/>
<line x1="430" y1="239.1" x2="460.6" y2="256.6"/>
<line x1="440" y1="276.1" x2="455.4" y2="262"/>
<line x1="440" y1="276.1" x2="465.2" y2="286.8"/>
</g>
<g id="labels">
<text x="28.3" y="248.55" textLength="33.4" lengthAdjust="spacingAndGlyphs" class="lb" font-size="10.3">振动气锤</text>
<line x1="28.3" y1="251.1" x2="61.7" y2="251.1" stroke="#111" stroke-width="0.95" stroke-linecap="butt"/>
<text x="21.7" y="274.25" textLength="50" lengthAdjust="spacingAndGlyphs" class="lb" font-size="10.3">锥部气化装置</text>
<line x1="21.7" y1="276.5" x2="71.7" y2="276.5" stroke="#111" stroke-width="0.95" stroke-linecap="butt"/>
<text x="148.3" y="257.55" textLength="40" lengthAdjust="spacingAndGlyphs" class="lb" font-size="10.3">低位料位计</text>
<line x1="148.3" y1="260.1" x2="188.3" y2="260.1" stroke="#111" stroke-width="0.95" stroke-linecap="butt"/>
<text x="136" y="291.95" textLength="39.7" lengthAdjust="spacingAndGlyphs" class="lb" font-size="10.3">手动插板阀</text>
<line x1="136" y1="294.3" x2="175.7" y2="294.3" stroke="#111" stroke-width="0.95" stroke-linecap="butt"/>
<text x="220" y="300.25" textLength="32" lengthAdjust="spacingAndGlyphs" class="lb" font-size="10.3">输送管道</text>
<line x1="220" y1="303.3" x2="252" y2="303.3" stroke="#111" stroke-width="0.95" stroke-linecap="butt"/>
<text x="40" y="325.25" textLength="40" lengthAdjust="spacingAndGlyphs" class="lb" font-size="10.3">压力变送器</text>
<line x1="40" y1="327.8" x2="80" y2="327.8" stroke="#111" stroke-width="0.95" stroke-linecap="butt"/>
<text x="107.7" y="328.55" textLength="24" lengthAdjust="spacingAndGlyphs" class="lb" font-size="10.3">物料进</text>
<text x="162.3" y="320.95" textLength="23.4" lengthAdjust="spacingAndGlyphs" class="lb" font-size="10.3">抽气室</text>
<line x1="162.3" y1="323.4" x2="185.7" y2="323.4" stroke="#111" stroke-width="0.95" stroke-linecap="butt"/>
<text x="12.8" y="347.95" textLength="41.5" lengthAdjust="spacingAndGlyphs" class="lb" font-size="10.3">空气过滤器</text>
<line x1="12.8" y1="350.4" x2="59" y2="350.4" stroke="#111" stroke-width="0.95" stroke-linecap="butt"/>
<text x="154.3" y="346.95" textLength="56.7" lengthAdjust="spacingAndGlyphs" class="lb" font-size="10.3">电动回转供料器</text>
<line x1="154.3" y1="349.4" x2="211" y2="349.4" stroke="#111" stroke-width="0.95" stroke-linecap="butt"/>
<text x="151.7" y="373.25" textLength="56" lengthAdjust="spacingAndGlyphs" class="lb" font-size="10.3">气固混合加速室</text>
<line x1="151.7" y1="375.7" x2="207.7" y2="375.7" stroke="#111" stroke-width="0.95" stroke-linecap="butt"/>
<text x="38.7" y="385.25" textLength="32.6" lengthAdjust="spacingAndGlyphs" class="lb" font-size="10.3">罗茨风机</text>
<line x1="38.7" y1="387.9" x2="71.3" y2="387.9" stroke="#111" stroke-width="0.95" stroke-linecap="butt"/>
<text x="78.3" y="419.25" textLength="65.7" lengthAdjust="spacingAndGlyphs" class="lb" font-size="10.3">AL系列旋转供料器</text>
<text x="36" y="448.95" textLength="23.3" lengthAdjust="spacingAndGlyphs" class="lb" font-size="10.3">启动柜</text>
<line x1="36" y1="451.5" x2="59.3" y2="451.5" stroke="#111" stroke-width="0.95" stroke-linecap="butt"/>
<text x="369.3" y="37.55" textLength="40.7" lengthAdjust="spacingAndGlyphs" class="lb" font-size="10.3">气动换向阀</text>
<line x1="369.3" y1="40.2" x2="410" y2="40.2" stroke="#111" stroke-width="0.95" stroke-linecap="butt"/>
<text x="511.7" y="35.95" textLength="40" lengthAdjust="spacingAndGlyphs" class="lb" font-size="10.3">离心引风机</text>
<line x1="511.7" y1="38.6" x2="551.7" y2="38.6" stroke="#111" stroke-width="0.95" stroke-linecap="butt"/>
<text x="609.9" y="73.75" textLength="90.1" lengthAdjust="spacingAndGlyphs" class="lb" font-size="10.3">脉冲反吹袋式料仓除尘器</text>
<line x1="609.9" y1="76.4" x2="700" y2="76.4" stroke="#111" stroke-width="0.95" stroke-linecap="butt"/>
<text x="659" y="117.55" textLength="61" lengthAdjust="spacingAndGlyphs" class="lb" font-size="10.3">真空/压力释放阀</text>
<line x1="659" y1="120.1" x2="720" y2="120.1" stroke="#111" stroke-width="0.95" stroke-linecap="butt"/>
<text x="463.3" y="204.25" textLength="30" lengthAdjust="spacingAndGlyphs" class="lb" font-size="10.3">收料仓A</text>
<line x1="463.3" y1="206.8" x2="493.3" y2="206.8" stroke="#111" stroke-width="0.95" stroke-linecap="butt"/>
<text x="398.3" y="236.55" textLength="31.7" lengthAdjust="spacingAndGlyphs" class="lb" font-size="10.3">振动气锤</text>
<line x1="398.3" y1="239.1" x2="430" y2="239.1" stroke="#111" stroke-width="0.95" stroke-linecap="butt"/>
<text x="391.7" y="273.55" textLength="48.3" lengthAdjust="spacingAndGlyphs" class="lb" font-size="10.3">锥部气化装置</text>
<line x1="391.7" y1="276.1" x2="440" y2="276.1" stroke="#111" stroke-width="0.95" stroke-linecap="butt"/>
<text x="467.5" y="333.05" textLength="22.7" lengthAdjust="spacingAndGlyphs" class="lb" font-size="10.3">物料出</text>
<text x="565" y="264.25" textLength="28.3" lengthAdjust="spacingAndGlyphs" class="lb" font-size="10.3">收料仓B</text>
<line x1="565" y1="266.8" x2="593.3" y2="266.8" stroke="#111" stroke-width="0.95" stroke-linecap="butt"/>
<text x="568.3" y="390.95" textLength="23.4" lengthAdjust="spacingAndGlyphs" class="lb" font-size="10.3">物料出</text>
<text x="667.7" y="321.75" textLength="28.7" lengthAdjust="spacingAndGlyphs" class="lb" font-size="10.3">收料仓C</text>
<line x1="667.7" y1="324.4" x2="696.4" y2="324.4" stroke="#111" stroke-width="0.95" stroke-linecap="butt"/>
<text x="678.6" y="256.95" textLength="39.7" lengthAdjust="spacingAndGlyphs" class="lb" font-size="10.3">高位料位计</text>
<line x1="678.6" y1="259.5" x2="718.3" y2="259.5" stroke="#111" stroke-width="0.95" stroke-linecap="butt"/>
<text x="696" y="406.95" textLength="40.5" lengthAdjust="spacingAndGlyphs" class="lb" font-size="10.3">低位料位计</text>
<line x1="696" y1="409.7" x2="736.5" y2="409.7" stroke="#111" stroke-width="0.95" stroke-linecap="butt"/>
<text x="668.3" y="448.95" textLength="24.3" lengthAdjust="spacingAndGlyphs" class="lb" font-size="10.3">物料出</text>
<text x="388.3" y="461.15" textLength="70" lengthAdjust="spacingAndGlyphs" class="lb" font-size="10.3">PLC可编程控制系统</text>
<line x1="388.3" y1="463.5" x2="458.3" y2="463.5" stroke="#111" stroke-width="0.95" stroke-linecap="butt"/>
<text x="518.8" y="489.25" textLength="77.9" lengthAdjust="spacingAndGlyphs" class="lb" font-size="10.3">工控计算机或DCS系统</text>
<line x1="518.8" y1="491.8" x2="596.7" y2="491.8" stroke="#111" stroke-width="0.95" stroke-linecap="butt"/>
<text class="lb" font-size="10.5" textLength="58" lengthAdjust="spacingAndGlyphs" transform="translate(286.6,373) rotate(-30)" x="0" y="0">物料和压缩空气</text>
</g>
<text class="song" font-size="21.2" fill="#e07272" fill-opacity="0.52" stroke="#e07272" stroke-opacity="0.42" stroke-width="0.35" transform="translate(184.9,383.5) rotate(-29.7)" y="0"><tspan x="5.15" text-anchor="middle">J</tspan><tspan x="15.45" text-anchor="middle">i</tspan><tspan x="21.35" textLength="8.8" lengthAdjust="spacingAndGlyphs">a</tspan><tspan x="31.25" textLength="9.6" lengthAdjust="spacingAndGlyphs">n</tspan><tspan x="41.65" textLength="9.4" lengthAdjust="spacingAndGlyphs">g</tspan><tspan x="56.65" text-anchor="middle">s</tspan><tspan x="62.15" textLength="9.6" lengthAdjust="spacingAndGlyphs">u</tspan> <tspan x="82.65" textLength="9.8" lengthAdjust="spacingAndGlyphs">F</tspan><tspan x="93.05" textLength="9.6" lengthAdjust="spacingAndGlyphs">u</tspan><tspan x="103.35" textLength="9.6" lengthAdjust="spacingAndGlyphs">y</tspan><tspan x="118.45" text-anchor="middle">i</tspan> <tspan x="133.75" textLength="10.6" lengthAdjust="spacingAndGlyphs">M</tspan><tspan x="144.95" textLength="8.8" lengthAdjust="spacingAndGlyphs">a</tspan><tspan x="159.65" text-anchor="middle">c</tspan><tspan x="165.15" textLength="9.6" lengthAdjust="spacingAndGlyphs">h</tspan><tspan x="180.25" text-anchor="middle">i</tspan><tspan x="185.75" textLength="9.6" lengthAdjust="spacingAndGlyphs">n</tspan><tspan x="200.85" text-anchor="middle">e</tspan><tspan x="211.15" text-anchor="middle">r</tspan><tspan x="216.65" textLength="9.6" lengthAdjust="spacingAndGlyphs">y</tspan> <tspan x="236.95" textLength="10.2" lengthAdjust="spacingAndGlyphs">T</tspan><tspan x="252.35" text-anchor="middle">e</tspan><tspan x="262.65" text-anchor="middle">c</tspan><tspan x="268.15" textLength="9.6" lengthAdjust="spacingAndGlyphs">h</tspan><tspan x="278.45" textLength="9.6" lengthAdjust="spacingAndGlyphs">n</tspan><tspan x="288.85" textLength="9.4" lengthAdjust="spacingAndGlyphs">o</tspan><tspan x="303.85" text-anchor="middle">l</tspan><tspan x="309.45" textLength="9.4" lengthAdjust="spacingAndGlyphs">o</tspan><tspan x="319.75" textLength="9.4" lengthAdjust="spacingAndGlyphs">g</tspan><tspan x="329.95" textLength="9.6" lengthAdjust="spacingAndGlyphs">y</tspan> <tspan x="350.25" textLength="10.2" lengthAdjust="spacingAndGlyphs">C</tspan><tspan x="360.95" textLength="9.4" lengthAdjust="spacingAndGlyphs">o</tspan><tspan x="375.95" text-anchor="middle">.</tspan><tspan x="386.25" text-anchor="middle">,</tspan><tspan x="391.55" textLength="10" lengthAdjust="spacingAndGlyphs">L</tspan><tspan x="406.85" text-anchor="middle">t</tspan><tspan x="417.15" text-anchor="middle">d</tspan><tspan x="427.45" text-anchor="middle">.</tspan></text>
<g id="bottom" class="song" font-size="20.3" fill="#db4d4d">
<text x="76.5" y="512.5" textLength="247" lengthAdjust="spacing">江苏福亿机械科技有限公司</text>
<text x="336.5" y="512.5" textLength="60" lengthAdjust="spacing">周守亮</text>
<text x="409.5" y="512.5" textLength="110.5" lengthAdjust="spacing">13357887293</text>
<text y="512.5"><tspan x="532.2" textLength="9.8" lengthAdjust="spacingAndGlyphs">w</tspan><tspan x="542.4" textLength="9.8" lengthAdjust="spacingAndGlyphs">w</tspan><tspan x="552.6" textLength="9.8" lengthAdjust="spacingAndGlyphs">w</tspan><tspan x="567.7" text-anchor="middle">.</tspan><tspan x="577.9" text-anchor="middle">j</tspan><tspan x="588.1" text-anchor="middle">s</tspan><tspan x="598.3" text-anchor="middle">f</tspan><tspan x="603.8" textLength="9.4" lengthAdjust="spacingAndGlyphs">u</tspan><tspan x="614" textLength="9.4" lengthAdjust="spacingAndGlyphs">y</tspan><tspan x="628.9" text-anchor="middle">i</tspan><tspan x="639.1" text-anchor="middle">.</tspan><tspan x="649.3" text-anchor="middle">c</tspan><tspan x="654.9" textLength="9.2" lengthAdjust="spacingAndGlyphs">o</tspan><tspan x="664.8" textLength="9.8" lengthAdjust="spacingAndGlyphs">m</tspan></text>
</g>
</svg>
</body>
</html>
